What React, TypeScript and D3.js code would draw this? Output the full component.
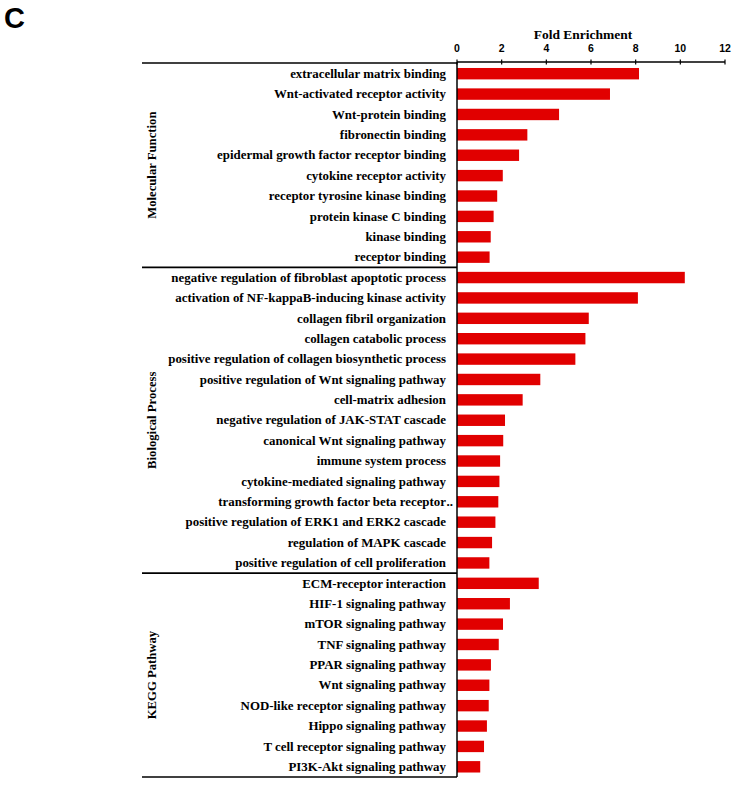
import React from "react";
import * as d3 from "d3";

const mfTerms = [
  "extracellular matrix binding",
  "Wnt-activated receptor activity",
  "Wnt-protein binding",
  "fibronectin binding",
  "epidermal growth factor receptor binding",
  "cytokine receptor activity",
  "receptor tyrosine kinase binding",
  "protein kinase C binding",
  "kinase binding",
  "receptor binding",
];
const mfValues = [8.15, 6.85, 4.57, 3.15, 2.78, 2.05, 1.8, 1.64, 1.51, 1.46];

const bpTerms = [
  "negative regulation of fibroblast apoptotic process",
  "activation of NF-kappaB-inducing kinase activity",
  "collagen fibril organization",
  "collagen catabolic process",
  "positive regulation of collagen biosynthetic process",
  "positive regulation of Wnt signaling pathway",
  "cell-matrix adhesion",
  "negative regulation of JAK-STAT cascade",
  "canonical Wnt signaling pathway",
  "immune system process",
  "cytokine-mediated signaling pathway",
  "transforming growth factor beta receptor..",
  "positive regulation of ERK1 and ERK2 cascade",
  "regulation of MAPK cascade",
  "positive regulation of cell proliferation",
];
const bpValues = [10.2, 8.1, 5.9, 5.75, 5.3, 3.73, 2.94, 2.15, 2.07, 1.93, 1.9, 1.85, 1.72, 1.57, 1.45];

const keggTerms = [
  "ECM-receptor interaction",
  "HIF-1 signaling pathway",
  "mTOR signaling pathway",
  "TNF signaling pathway",
  "PPAR signaling pathway",
  "Wnt signaling pathway",
  "NOD-like receptor signaling pathway",
  "Hippo signaling pathway",
  "T cell receptor signaling pathway",
  "PI3K-Akt signaling pathway",
];
const keggValues = [3.66, 2.37, 2.06, 1.87, 1.52, 1.45, 1.42, 1.34, 1.21, 1.04];

const groupNames = ["Molecular Function", "Biological Process", "KEGG Pathway"];
const xTicks = [0, 2, 4, 6, 8, 10, 12];

const groups = [
  { name: groupNames[0], terms: mfTerms, values: mfValues },
  { name: groupNames[1], terms: bpTerms, values: bpValues },
  { name: groupNames[2], terms: keggTerms, values: keggValues },
];

export default function App() {
  const rows: { key: string; term: string; value: number; g: number }[] = [];
  groups.forEach((g, gi) =>
    g.terms.forEach((t, i) => rows.push({ key: `${gi}-${i}`, term: t, value: g.values[i], g: gi }))
  );

  const x = d3.scaleLinear().domain([0, 12]).range([457, 725]);
  const y = d3
    .scaleBand<string>()
    .domain(rows.map((r) => r.key))
    .range([63.5, 777])
    .paddingInner(0.44)
    .paddingOuter(0.22);
  const step = y.step();

  const serif = "'Liberation Serif', 'Times New Roman', serif";
  const sans = "'Liberation Sans', Arial, sans-serif";
  const labelSize = 12.9;

  let start = 0;
  const groupBounds = groups.map((g) => {
    const first = rows[start].key;
    const last = rows[start + g.terms.length - 1].key;
    start += g.terms.length;
    const top = y(first)! - (y.paddingInner() * step) / 2;
    const bottom = y(last)! + y.bandwidth() + (y.paddingInner() * step) / 2;
    return { name: g.name, top, bottom };
  });
  groupBounds[0].top = 63;
  groupBounds[2].bottom = 777;

  return (
    <svg
      width={738}
      height={785}
      style={{ position: "absolute", left: 0, top: 0, background: "#fff" }}
    >
      <text x={4} y={28} fontFamily={sans} fontWeight="bold" fontSize={29} fill="#000">
        C
      </text>
      <text x={583} y={39} textAnchor="middle" fontFamily={serif} fontWeight="bold" fontSize={13.5}>
        Fold Enrichment
      </text>
      {xTicks.map((t) => (
        <g key={t}>
          <text x={x(t)} y={51.5} textAnchor="middle" fontFamily={sans} fontWeight="bold" fontSize={10.5}>
            {t}
          </text>
          <line x1={x(t)} x2={x(t)} y1={59.5} y2={64.5} stroke="#000" strokeWidth={1.2} />
        </g>
      ))}
      <line x1={x(0)} x2={x(12)} y1={62} y2={62} stroke="#000" strokeWidth={1.5} />

      {rows.map((r) => (
        <rect
          key={r.key}
          x={x(0)}
          y={y(r.key)!}
          width={x(r.value) - x(0)}
          height={y.bandwidth()}
          fill="#E10000"
        />
      ))}

      {rows.map((r) => {
        const cy = y(r.key)! + y.bandwidth() / 2 + 4.2;
        if (r.term.endsWith("..")) {
          return (
            <g key={r.key}>
              <text x={446} y={cy} textAnchor="end" fontFamily={serif} fontWeight="bold" fontSize={labelSize}>
                {r.term.slice(0, -2)}
              </text>
              <text x={446.5} y={cy} textAnchor="start" fontFamily={serif} fontWeight="bold" fontSize={labelSize}>
                ..
              </text>
            </g>
          );
        }
        return (
          <text key={r.key} x={446} y={cy} textAnchor="end" fontFamily={serif} fontWeight="bold" fontSize={labelSize}>
            {r.term}
          </text>
        );
      })}

      {groupBounds.map((g, i) => (
        <g key={g.name}>
          <line x1={142} x2={457} y1={g.top} y2={g.top} stroke="#000" strokeWidth={1.6} />
          {i === groupBounds.length - 1 && (
            <line x1={142} x2={457} y1={g.bottom} y2={g.bottom} stroke="#000" strokeWidth={1.6} />
          )}
          <text
            transform={`translate(155.5,${(g.top + g.bottom) / 2}) rotate(-90)`}
            textAnchor="middle"
            fontFamily={serif}
            fontWeight="bold"
            fontSize={12.7}
          >
            {g.name}
          </text>
        </g>
      ))}
      <line x1={457} x2={457} y1={62} y2={777} stroke="#000" strokeWidth={1.5} />
    </svg>
  );
}
